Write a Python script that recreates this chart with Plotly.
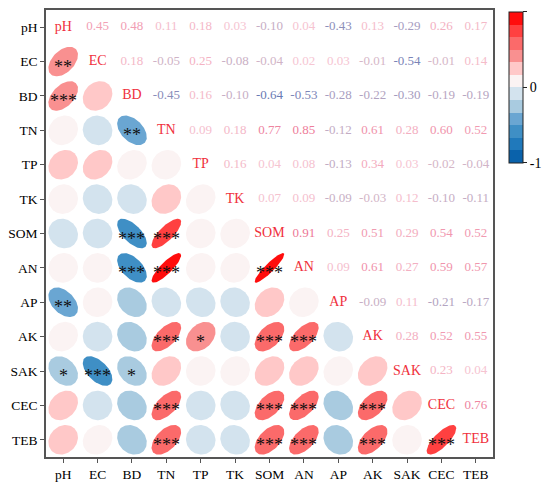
import numpy as np
import plotly.graph_objects as go

labels = ["pH", "EC", "BD", "TN", "TP", "TK", "SOM", "AN", "AP", "AK", "SAK", "CEC", "TEB"]

# correlation of each row variable with the variables after it (upper triangle)
r_upper = [
    [0.45, 0.48, 0.11, 0.18, 0.03, -0.10, 0.04, -0.43, 0.13, -0.29, 0.26, 0.17],
    [0.18, -0.05, 0.25, -0.08, -0.04, 0.02, 0.03, -0.01, -0.54, -0.01, 0.14],
    [-0.45, 0.16, -0.10, -0.64, -0.53, -0.28, -0.22, -0.30, -0.19, -0.19],
    [0.09, 0.18, 0.77, 0.85, -0.12, 0.61, 0.28, 0.60, 0.52],
    [0.16, 0.04, 0.08, -0.13, 0.34, 0.03, -0.02, -0.04],
    [0.07, 0.09, -0.09, -0.03, 0.12, -0.10, -0.11],
    [0.91, 0.25, 0.51, 0.29, 0.54, 0.52],
    [0.09, 0.61, 0.27, 0.59, 0.57],
    [-0.09, 0.11, -0.21, -0.17],
    [0.28, 0.52, 0.55],
    [0.23, 0.04],
    [0.76],
]

# significance marks, lower triangle (row variable vs. the variables before it)
stars_lower = [
    ["**"],
    ["***", ""],
    ["", "", "**"],
    ["", "", "", ""],
    ["", "", "", "", ""],
    ["", "", "***", "***", "", ""],
    ["", "", "***", "***", "", "", "***"],
    ["**", "", "", "", "", "", "", ""],
    ["", "", "", "***", "*", "", "***", "***", ""],
    ["*", "***", "*", "", "", "", "", "", "", ""],
    ["", "", "", "***", "", "", "***", "***", "", "***", ""],
    ["", "", "", "***", "", "", "***", "***", "", "***", "", "***"],
]

# 12 colour bins from -1 to 1
bin_colors = ["#0a62ab", "#2079bb", "#3f8fc5", "#6aa6d2", "#a9cbe0", "#d3e3ee",
              "#fbf3f3", "#ffc8c8", "#f99090", "#fb6a6a", "#ff4040", "#ff0d0d"]

n = len(labels)
R = np.eye(n)
for i, row in enumerate(r_upper):
    for k, v in enumerate(row):
        j = i + 1 + k
        R[i, j] = v
        R[j, i] = v


def bin_color(r):
    idx = int(np.floor((r + 1) / 2 * 12))
    return bin_colors[min(max(idx, 0), 11)]


def mix(c1, c2, t):
    a = [int(c1[k:k + 2], 16) for k in (1, 3, 5)]
    b = [int(c2[k:k + 2], 16) for k in (1, 3, 5)]
    return "rgb(%d,%d,%d)" % tuple(round(a[m] * (1 - t) + b[m] * t) for m in range(3))


def num_color(r):
    if r >= 0:
        return mix("#f6c8d4", "#ec7090", r)
    return mix("#d8b8c8", "#2a58a8", -r)


fig = go.Figure()

# ellipses (lower triangle)
t = np.linspace(0, 2 * np.pi, 80)
scale = 0.43
for i in range(1, n):
    for j in range(i):
        r = R[i, j]
        d = np.arccos(r)
        ex = np.cos(t + d / 2) * scale
        ey = np.cos(t - d / 2) * scale
        fig.add_trace(go.Scatter(
            x=(j + 1) + ex, y=(i + 1) - ey,
            mode="lines", fill="toself", fillcolor=bin_color(r),
            line=dict(width=0), hoverinfo="skip", showlegend=False,
        ))
        s = stars_lower[i - 1][j]
        if s:
            fig.add_annotation(x=j + 1, y=i + 1, text=s, showarrow=False, yshift=-5,
                               font=dict(family="Liberation Serif", size=18, color="#111"))

# numbers (upper triangle)
ux, uy, ut, uc = [], [], [], []
for i in range(n):
    for j in range(i + 1, n):
        ux.append(j + 1)
        uy.append(i + 1)
        ut.append("%.2f" % R[i, j])
        uc.append(num_color(R[i, j]))
fig.add_trace(go.Scatter(
    x=ux, y=uy, text=ut, mode="text", textposition="middle center",
    textfont=dict(family="Liberation Serif", size=13, color=uc),
    hoverinfo="skip", showlegend=False,
))

# variable names on the diagonal
fig.add_trace(go.Scatter(
    x=list(range(1, n + 1)), y=list(range(1, n + 1)), text=labels,
    mode="text", textposition="middle center",
    textfont=dict(family="Liberation Serif", size=14, color="#f0303c"),
    hoverinfo="skip", showlegend=False,
))

# colour bar
cscale = []
for k, c in enumerate(bin_colors):
    cscale.append([k / 12, c])
    cscale.append([(k + 1) / 12, c])
fig.add_trace(go.Scatter(
    x=[None], y=[None], mode="markers", showlegend=False, hoverinfo="skip",
    marker=dict(color=[0], cmin=-1, cmax=1, colorscale=cscale, showscale=True,
                colorbar=dict(x=1.036, xanchor="left", y=0.996, yanchor="top",
                              xpad=0, ypad=0,
                              len=0.338, lenmode="fraction", thickness=14,
                              outlinecolor="#222", outlinewidth=1,
                              tickvals=[-1, 0, 1], ticktext=["-1", "0", "1"],
                              ticks="outside", ticklen=4, tickcolor="#222",
                              tickfont=dict(family="Liberation Serif", size=14, color="black"))),
))

axis_common = dict(
    showgrid=False, zeroline=False, showline=True, linecolor="#555", linewidth=1.5,
    mirror=True, ticks="outside", ticklen=4, tickcolor="#555", automargin=False,
    tickangle=0, tickvals=list(range(1, n + 1)), ticktext=labels,
    tickfont=dict(family="Liberation Serif", size=13.5, color="black"),
)
fig.update_xaxes(range=[0.5, n + 0.5], **axis_common)
fig.update_yaxes(range=[n + 0.5, 0.5], **axis_common)

# page body adds 8px around the figure
fig.update_layout(
    width=542, height=481,
    margin=dict(l=38, r=57, t=2, b=32, autoexpand=False),
    plot_bgcolor="white", paper_bgcolor="white",
    font=dict(family="Liberation Serif"),
)

fig.write_html("out.html")
